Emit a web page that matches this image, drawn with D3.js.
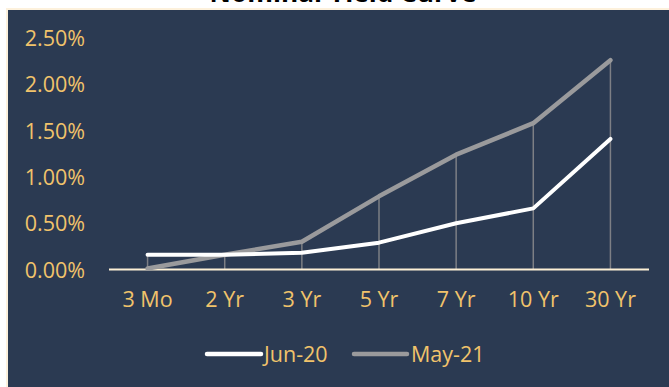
<!DOCTYPE html>
<html>
<head>
<meta charset="utf-8">
<script src="https://cdn.jsdelivr.net/npm/d3@7"></script>
<style>
  html, body { margin: 0; padding: 0; background: #ffffff; }
  svg { display: block; }
</style>
</head>
<body>
<svg id="chart" width="669" height="387"></svg>
<script>
// Treasury yields (%) by maturity
const maturities = ["3 Mo", "2 Yr", "3 Yr", "5 Yr", "7 Yr", "10 Yr", "30 Yr"];
const jun20 = [0.16, 0.16, 0.18, 0.29, 0.50, 0.66, 1.41];
const may21 = [0.01, 0.16, 0.30, 0.79, 1.24, 1.58, 2.26];
const yTicks = [0, 0.5, 1.0, 1.5, 2.0, 2.5];
const seriesNames = ["Jun-20", "May-21"];

const W = 669, H = 387;
const svg = d3.select("#chart");
const font = "'Open Sans', 'DejaVu Sans', sans-serif";
const labelColor = "#f1c36b";

// Frame and panel
svg.append("rect").attr("x", 0).attr("y", 0).attr("width", W).attr("height", H).attr("fill", "#ffffff");
svg.append("rect").attr("x", 6).attr("y", 8).attr("width", W - 6).attr("height", H - 8).attr("fill", "#fdf1dc");
svg.append("rect").attr("x", 8).attr("y", 10).attr("width", W - 8).attr("height", H - 10).attr("fill", "#2b3a52");

// Title (sits above the panel, partly outside the frame)
const title = svg.append("text")
  .attr("x", 343).attr("y", 2)
  .attr("text-anchor", "middle")
  .attr("font-family", font).attr("font-weight", 700)
  .attr("font-size", 24).attr("fill", "#000000")
  .text("Nominal Yield Curve");
const tw = title.node().getComputedTextLength();
title.attr("font-size", 24 * 267 / tw);

// Scales
const x = d3.scaleBand().domain(maturities).range([109, 649]);
const y = d3.scaleLinear().domain([0, 2.5]).range([269.5, 38]);
const cx = d => x(d) + x.bandwidth() / 2;

// Y axis labels
const yAxis = d3.axisLeft(y).tickValues(yTicks).tickFormat(d => d3.format(".2f")(d) + "%").tickSize(0).tickPadding(24);
const gy = svg.append("g").attr("transform", "translate(109,0)").call(yAxis);
gy.select(".domain").remove();
gy.selectAll("text").attr("font-family", font).attr("font-size", 21.5).attr("fill", labelColor).attr("dy", "0.35em");

// Drop lines from the higher series to the axis
svg.append("g").selectAll("line")
  .data(maturities)
  .join("line")
  .attr("x1", d => cx(d)).attr("x2", d => cx(d))
  .attr("y1", (d, i) => y(Math.max(jun20[i], may21[i])))
  .attr("y2", y(0))
  .attr("stroke", "#7d7f85").attr("stroke-width", 1.5);

// X axis
const xAxis = d3.axisBottom(x).tickSize(0).tickPadding(22);
const gx = svg.append("g").attr("transform", `translate(0,${y(0)})`).call(xAxis);
gx.select(".domain").attr("stroke", "#fdf0d5").attr("stroke-width", 2).attr("d", "M109,0H649");
gx.selectAll("text").attr("font-family", font).attr("font-size", 21.5).attr("fill", labelColor).attr("dy", "0.71em");

// Series lines
const line = d3.line().x(d => cx(d.m)).y(d => y(d.v));
const toPts = arr => arr.map((v, i) => ({ m: maturities[i], v }));
const styles = [
  { data: jun20, color: "#ffffff", width: 4 },
  { data: may21, color: "#9a9a9c", width: 4.5 }
];
styles.slice().reverse().forEach(s => {
  svg.append("path")
    .attr("d", line(toPts(s.data)))
    .attr("fill", "none")
    .attr("stroke", s.color)
    .attr("stroke-width", s.width)
    .attr("stroke-linejoin", "round")
    .attr("stroke-linecap", "round");
});

// Legend
const legendItems = [
  { name: seriesNames[0], color: "#ffffff", x1: 207, x2: 261, tx: 264 },
  { name: seriesNames[1], color: "#9a9a9c", x1: 354, x2: 407, tx: 411 }
];
const lg = svg.append("g");
legendItems.forEach(it => {
  lg.append("line").attr("x1", it.x1).attr("x2", it.x2).attr("y1", 354).attr("y2", 354)
    .attr("stroke", it.color).attr("stroke-width", 4.5).attr("stroke-linecap", "round");
  lg.append("text").attr("x", it.tx).attr("y", 354).attr("dy", "0.35em")
    .attr("font-family", font).attr("font-size", 21.5).attr("fill", labelColor)
    .text(it.name);
});
</script>
</body>
</html>
